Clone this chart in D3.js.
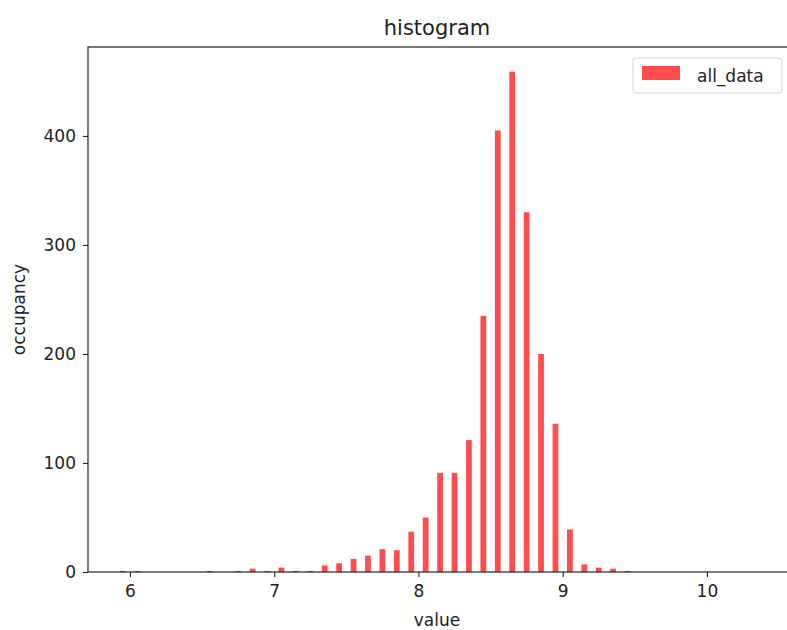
<!DOCTYPE html>
<html>
<head>
<meta charset="utf-8">
<script src="https://cdn.jsdelivr.net/npm/d3@7"></script>
<style>
  body { margin: 0; background: #fff; }
  svg text { font-family: "DejaVu Sans", sans-serif; fill: #222; }
</style>
</head>
<body>
<svg id="chart" width="787" height="630"></svg>
<script>
// bin centres (width 0.1) and their counts, empty bins left out
const binCenters = [5.95, 6.05, 6.55, 6.75, 6.85, 6.95, 7.05, 7.15, 7.25, 7.35,
  7.45, 7.55, 7.65, 7.75, 7.85, 7.95, 8.05, 8.15, 8.25, 8.35,
  8.45, 8.55, 8.65, 8.75, 8.85, 8.95, 9.05, 9.15, 9.25, 9.35, 9.45]
const counts = [1, 1, 1, 1, 3, 1, 4, 1, 1, 6,
  8, 12, 15, 21, 20, 37, 50, 91, 91, 121,
  235, 405, 459, 330, 200, 136, 39, 7, 4, 3, 1]
const xTicks = [6, 7, 8, 9, 10]
const yTicks = [0, 100, 200, 300, 400]
const barWidth = 0.04

const svg = d3.select('#chart')
// right edge of the axes sits just past the picture edge
const pLeft = 88, pRight = 789, pTop = 47, pBottom = 572

const x = d3.scaleLinear().domain([5.709, 10.569]).range([pLeft, pRight])
const y = d3.scaleLinear().domain([0, 481.6]).range([pBottom, pTop])

svg.append('clipPath').attr('id', 'plot-clip')
  .append('rect')
  .attr('x', pLeft).attr('y', pTop)
  .attr('width', pRight - pLeft).attr('height', pBottom - pTop)

svg.append('g')
  .attr('clip-path', 'url(#plot-clip)')
  .selectAll('rect')
  .data(binCenters)
  .join('rect')
  .attr('x', d => x(d - barWidth / 2))
  .attr('width', d => x(d + barWidth / 2) - x(d - barWidth / 2))
  .attr('y', (d, i) => y(counts[i]))
  .attr('height', (d, i) => y(0) - y(counts[i]))
  .attr('fill', '#ff0000')
  .attr('fill-opacity', 0.7)

// axes
const xAxis = svg.append('g')
  .attr('transform', `translate(0,${pBottom})`)
  .call(d3.axisBottom(x).tickValues(xTicks).tickFormat(d3.format('d')).tickSize(5).tickPadding(8))
const yAxis = svg.append('g')
  .attr('transform', `translate(${pLeft},0)`)
  .call(d3.axisLeft(y).tickValues(yTicks).tickFormat(d3.format('d')).tickSize(5).tickPadding(7))

;[xAxis, yAxis].forEach(g => {
  g.select('.domain').remove()
  g.selectAll('line').attr('stroke', '#222').attr('stroke-width', 1.1)
  g.selectAll('text').attr('font-size', 17).style('fill', '#222')
})

// frame
svg.append('rect')
  .attr('x', pLeft).attr('y', pTop)
  .attr('width', pRight - pLeft).attr('height', pBottom - pTop)
  .attr('fill', 'none').attr('stroke', '#222').attr('stroke-width', 1.2)

// title and labels
const midX = 437
svg.append('text')
  .attr('x', midX).attr('y', 35)
  .attr('text-anchor', 'middle').attr('font-size', 21)
  .text('histogram')
svg.append('text')
  .attr('x', midX).attr('y', 626)
  .attr('text-anchor', 'middle').attr('font-size', 17)
  .text('value')
svg.append('text')
  .attr('transform', `translate(25,${(pTop + pBottom) / 2}) rotate(-90)`)
  .attr('text-anchor', 'middle').attr('font-size', 17)
  .text('occupancy')

// legend
const lg = svg.append('g')
lg.append('rect')
  .attr('x', 633).attr('y', 58).attr('width', 149).attr('height', 35)
  .attr('rx', 3).attr('fill', '#fff').attr('fill-opacity', 0.8)
  .attr('stroke', '#d5d5d5')
lg.append('rect')
  .attr('x', 642).attr('y', 66).attr('width', 38).attr('height', 14)
  .attr('fill', '#ff0000').attr('fill-opacity', 0.7)
lg.append('text')
  .attr('x', 697).attr('y', 82).attr('font-size', 17)
  .text('all_data')
</script>
</body>
</html>
